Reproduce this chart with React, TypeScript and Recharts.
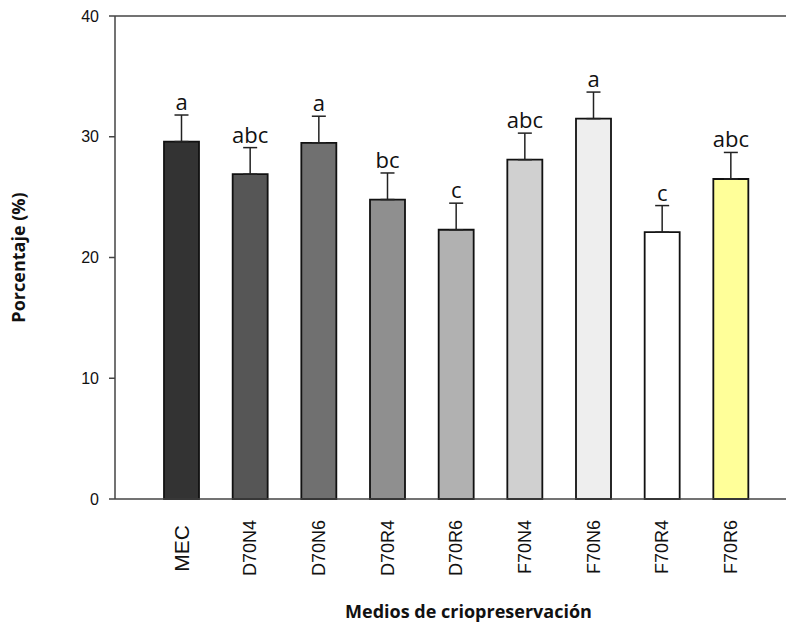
import { BarChart, Bar, XAxis, YAxis, ErrorBar, LabelList, ReferenceLine, Cell } from "recharts";

const medios = ["MEC", "D70N4", "D70N6", "D70R4", "D70R6", "F70N4", "F70N6", "F70R4", "F70R6"];
const porcentaje = [29.6, 26.9, 29.5, 24.8, 22.3, 28.1, 31.5, 22.1, 26.5];
const errorSup = [2.2, 2.2, 2.2, 2.2, 2.2, 2.2, 2.2, 2.2, 2.2];
const letras = ["a", "abc", "a", "bc", "c", "abc", "a", "c", "abc"];
const yTicks = [0, 10, 20, 30, 40];

const barColors = ["#333333", "#565656", "#707070", "#8f8f8f", "#b1b1b1", "#d0d0d0", "#eeeeee", "#ffffff", "#ffff99"];

const data = medios.map((name, i) => ({
  name,
  value: porcentaje[i],
  err: [0, errorSup[i]],
  letra: letras[i],
}));

const CategoryTick = (props: any) => {
  const { x, y, payload } = props;
  const big = payload.value === "MEC";
  const ty = y + (big ? 18 : 13);
  return (
    <text
      x={x}
      y={ty}
      dy="0.35em"
      textAnchor="end"
      transform={`rotate(-90, ${x}, ${ty})`}
      fontFamily="Liberation Sans, Arial, sans-serif"
      fontSize={big ? 21 : 18}
      fill="#111"
    >
      {payload.value}
    </text>
  );
};

const LetterLabel = (props: any) => {
  const { x, y, width, height, index, value } = props;
  // pixels per unit from the bar's own scaled height
  const pxPerUnit = height / porcentaje[index];
  const top = y - errorSup[index] * pxPerUnit;
  return (
    <text
      x={x + width / 2}
      y={top - 5}
      textAnchor="middle"
      fontFamily="Open Sans, sans-serif"
      fontSize={22}
      fill="#111"
    >
      {value}
    </text>
  );
};

export default function App() {
  return (
    <div style={{ position: "absolute", left: 0, top: 0, width: 786, height: 633, background: "#fff" }}>
      <BarChart
        width={786}
        height={633}
        data={data}
        margin={{ top: 16, right: 0, bottom: 0, left: 0 }}
        barCategoryGap={0}
      >
        <ReferenceLine y={40} stroke="#444" strokeWidth={1.5} />
        <XAxis
          dataKey="name"
          height={134}
          padding={{ left: 32, right: 21 }}
          tickLine={false}
          axisLine={{ stroke: "#444", strokeWidth: 1.5 }}
          tick={<CategoryTick />}
          interval={0}
          label={{
            content: (p: any) => {
              const vb = p.viewBox;
              return (
                <text
                  x={vb.x + vb.width / 2 + 18}
                  y={vb.y + 119}
                  textAnchor="middle"
                  fontFamily="Open Sans, sans-serif"
                  fontWeight="bold"
                  fontSize={18}
                  fill="#111"
                >
                  Medios de criopreservación
                </text>
              );
            },
          }}
        />
        <YAxis
          width={115}
          domain={[0, 40]}
          ticks={yTicks}
          tickSize={6}
          tickMargin={10}
          tickLine={{ stroke: "#444", strokeWidth: 1.5 }}
          axisLine={{ stroke: "#444", strokeWidth: 1.5 }}
          tick={{ fontFamily: "Liberation Sans, Arial, sans-serif", fontSize: 16, fill: "#111" }}
          label={{
            content: (p: any) => {
              const vb = p.viewBox;
              const cy = vb.y + vb.height / 2;
              return (
                <text
                  x={19}
                  y={cy}
                  dy="0.35em"
                  textAnchor="middle"
                  transform={`rotate(-90, 19, ${cy})`}
                  fontFamily="Open Sans, sans-serif"
                  fontWeight="bold"
                  fontSize={18}
                  fill="#111"
                >
                  Porcentaje (%)
                </text>
              );
            },
          }}
        />
        <Bar dataKey="value" barSize={35} stroke="#111" strokeWidth={1.8} isAnimationActive={false}>
          {data.map((d, i) => (
            <Cell key={d.name} fill={barColors[i]} />
          ))}
          <ErrorBar dataKey="err" width={7} stroke="#222" strokeWidth={1.5} />
          <LabelList dataKey="letra" content={<LetterLabel />} />
        </Bar>
      </BarChart>
    </div>
  );
}
